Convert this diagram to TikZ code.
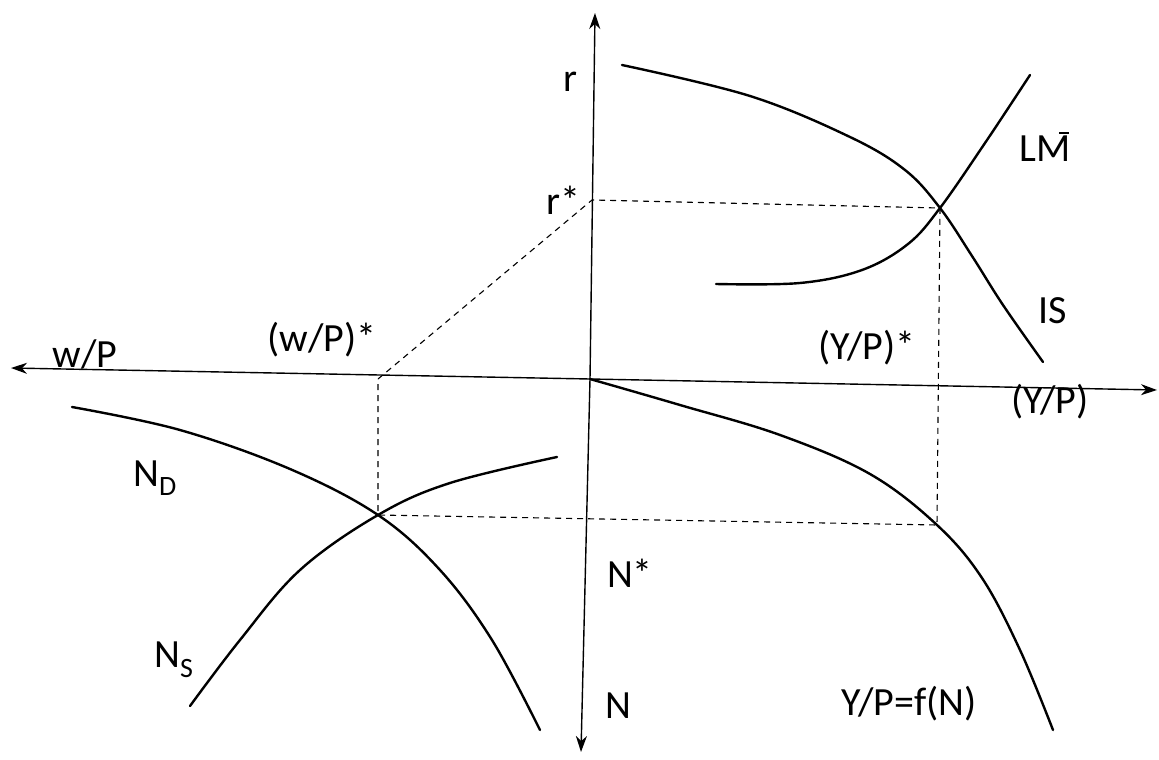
\documentclass[tikz,border=0pt]{standalone}
\usepackage{fontspec}
\setmainfont{Carlito}
\usetikzlibrary{arrows.meta}
\begin{document}
\begin{tikzpicture}[x=1pt,y=-1pt,
  axis/.style={line width=1.4pt,-{Stealth[length=16pt,width=11pt,inset=5pt]}},
  curve/.style={line width=2.4pt,line cap=round},
  guide/.style={line width=1.1pt,dash pattern=on 6pt off 5pt},
  lbl/.style={inner sep=0pt,font=\fontsize{40}{44}\selectfont}]
\useasboundingbox (0,0) rectangle (1159,760);
% axes
\coordinate (O) at (590,379);
\coordinate (ytop) at (595,13);
\coordinate (ybot) at (581,752);
\coordinate (xleft) at (11,368);
\coordinate (xright) at (1157,390);
\draw[axis] (O) -- (ytop);
\draw[axis] (O) -- (ybot);
\draw[axis] (O) -- (xleft);
\draw[axis] (O) -- (xright);
% key points
\coordinate (E) at (940,208);
\coordinate (rs) at (592,200);
\coordinate (ws) at (378,379);
\coordinate (L) at (378,515);
\coordinate (F) at (937,525);
% curves
\draw[curve] plot[smooth,tension=0.6] coordinates {(622,65) (750,96) (850,137) (905,170) (940,208) (972,256) (1003,305) (1043,362)};
\draw[curve] plot[smooth,tension=0.6] coordinates {(716,284) (800,283) (862,270) (908,244) (940,208) (985,143) (1030,75)};
\draw[curve] plot[smooth,tension=0.6] coordinates {(O) (680,405) (780,435) (870,474) (937,525) (982,578) (1020,650) (1053,730)};
\draw[curve] plot[smooth,tension=0.6] coordinates {(72,407) (180,430) (290,469) (378,515) (440,570) (492,640) (540,730)};
\draw[curve] plot[smooth,tension=0.6] coordinates {(190,706) (240,640) (300,570) (378,515) (450,483) (557,457)};
% dashed guides
\draw[guide] (ws) -- (rs) -- (E) -- (F) -- (L) -- (ws);
% labels
\node[lbl] (lr) at (570,82) {r};
\node[lbl] (lrs) at (563,200) {r*};
\node[lbl] (lwp) at (85,354) {w/P};
\node[lbl] (lwps) at (322,340) {(w/P)*};
\node[lbl] (lyps) at (867,348) {(Y/P)*};
\node[lbl] (lyp) at (1050,402) {(Y/P)};
\node[lbl] (llm) at (1045,147) {LM\llap{\raisebox{0.68em}{\rule{0.24em}{0.05em}}\kern0.04em}};
\node[lbl] (lis) at (1053,311) {IS};
\node[lbl] (lnd) at (155,478) {N\textsubscript{D}};
\node[lbl] (lns) at (174,660) {N\textsubscript{S}};
\node[lbl] (lns2) at (630,573) {N*};
\node[lbl] (ln) at (618,706) {N};
\node[lbl] (lf) at (909,704) {Y/P=f(N)};
\end{tikzpicture}
\end{document}
